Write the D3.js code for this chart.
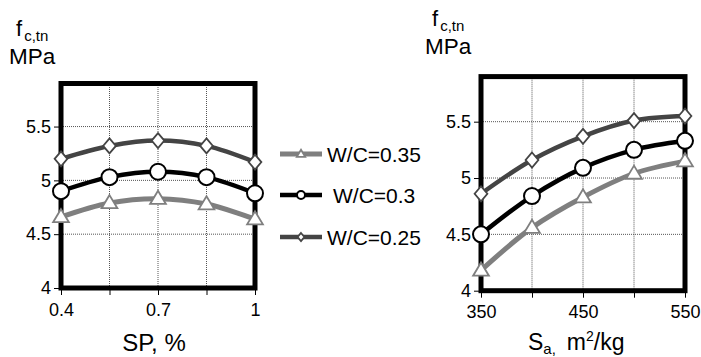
<!DOCTYPE html>
<html>
<head>
<meta charset="utf-8">
<script src="https://cdn.jsdelivr.net/npm/d3@7"></script>
<style>
  body { margin: 0; background: #fff; }
  svg { font-family: "Liberation Sans", Arial, sans-serif; }
</style>
</head>
<body>
<div id="chart"></div>
<script>
// series names
const seriesNames = ["W/C=0.35", "W/C=0.3", "W/C=0.25"]

// left panel: superplasticizer dosage
const spValues = [0.4, 0.55, 0.7, 0.85, 1]
const spWc035 = [4.66, 4.79, 4.83, 4.78, 4.64]
const spWc030 = [4.90, 5.03, 5.08, 5.03, 4.88]
const spWc025 = [5.20, 5.32, 5.37, 5.32, 5.17]

// right panel: specific surface
const saValues = [350, 400, 450, 500, 550]
const saWc035 = [4.18, 4.56, 4.83, 5.04, 5.15]
const saWc030 = [4.50, 4.84, 5.09, 5.25, 5.33]
const saWc025 = [4.86, 5.16, 5.37, 5.51, 5.55]

const yTicks = [4, 4.5, 5, 5.5]
const spLabels = [0.4, 0.7, 1]
const saLabels = [350, 450, 550]

const styles = [
  { color: "#7f7f7f", width: 5, marker: "triangle" },
  { color: "#000", width: 4.5, marker: "circle" },
  { color: "#444", width: 4.5, marker: "diamond" }
]

const W = 701, H = 357
const svg = d3.select("#chart").append("svg")
  .attr("width", W).attr("height", H)

function marker(g, type, color, s) {
  let path
  if (type === "circle") {
    return g.append("circle").attr("r", s).attr("fill", "#fff")
      .attr("stroke", color).attr("stroke-width", 2)
  }
  if (type === "triangle") {
    path = `M0,${-s * 1.05}L${s * 1.05},${s * 0.7}L${-s * 1.05},${s * 0.7}Z`
  } else {
    path = `M0,${-s}L${s * 0.85},0L0,${s}L${-s * 0.85},0Z`
  }
  return g.append("path").attr("d", path).attr("fill", "#fff")
    .attr("stroke", color).attr("stroke-width", 1.8)
}

function panel(xVals, series, xDomain, xRange, yRange, xLabels) {
  const x = d3.scaleLinear().domain(xDomain).range(xRange)
  const y = d3.scaleLinear().domain([4, 5.9]).range(yRange)
  const g = svg.append("g")

  // grid
  g.append("g").selectAll("line").data(yTicks.slice(1)).join("line")
    .attr("x1", xRange[0]).attr("x2", xRange[1])
    .attr("y1", d => y(d)).attr("y2", d => y(d))
    .attr("stroke", "#555").attr("stroke-width", 1).attr("stroke-dasharray", "1,1")
  g.append("g").selectAll("line").data(xVals.slice(1, -1)).join("line")
    .attr("x1", d => x(d)).attr("x2", d => x(d))
    .attr("y1", yRange[0]).attr("y2", yRange[1])
    .attr("stroke", "#555").attr("stroke-width", 1).attr("stroke-dasharray", "1,1")

  // axes
  const xAxis = g.append("g").attr("transform", `translate(0,${yRange[0]})`)
    .call(d3.axisBottom(x).tickValues(xVals).tickSize(7).tickPadding(8)
      .tickFormat(d => xLabels.includes(d) ? d3.format("~g")(d) : ""))
  const yAxis = g.append("g").attr("transform", `translate(${xRange[0]},0)`)
    .call(d3.axisLeft(y).tickValues(yTicks).tickSize(7).tickPadding(3)
      .tickFormat(d3.format("~g")))
  ;[xAxis, yAxis].forEach(a => {
    a.select(".domain").remove()
    a.selectAll("line").attr("stroke", "#000").attr("stroke-width", 1)
    a.selectAll("text").attr("font-size", 18).attr("fill", "#000")
      .attr("font-family", "\"Liberation Sans\", Arial, sans-serif")
  })

  // frame
  g.append("rect")
    .attr("x", xRange[0]).attr("y", yRange[1])
    .attr("width", xRange[1] - xRange[0]).attr("height", yRange[0] - yRange[1])
    .attr("fill", "none").attr("stroke", "#000").attr("stroke-width", 5)

  const line = d3.line().x(d => x(d[0])).y(d => y(d[1])).curve(d3.curveCatmullRom)
  series.forEach((vals, i) => {
    const st = styles[i]
    const pts = xVals.map((v, j) => [v, vals[j]])
    g.append("path").attr("d", line(pts)).attr("fill", "none")
      .attr("stroke", st.color).attr("stroke-width", st.width)
    pts.forEach(p => {
      const m = g.append("g").attr("transform", `translate(${x(p[0])},${y(p[1])})`)
      marker(m, st.marker, st.color, st.marker === "circle" ? 8 : 7.5)
    })
  })
}

panel(spValues, [spWc035, spWc030, spWc025], [0.4, 1], [61, 255], [288, 83.5], spLabels)
panel(saValues, [saWc035, saWc030, saWc025], [350, 550], [481, 685], [290.7, 76.6], saLabels)

// y titles
function yTitle(x0, base) {
  const t = svg.append("text").attr("x", x0).attr("y", base).attr("fill", "#000")
  t.append("tspan").attr("font-size", 22).text("f")
  t.append("tspan").attr("font-size", 15).attr("dy", 5).attr("dx", 2).text("c,tn")
  svg.append("text").attr("x", x0 - 7).attr("y", base + 28).attr("font-size", 22.5)
    .attr("fill", "#000").text("MPa")
}
yTitle(16, 36)
yTitle(432, 26)

// x titles
svg.append("text").attr("x", 154).attr("y", 351).attr("text-anchor", "middle")
  .attr("font-size", 24).text("SP, %")
const sa = svg.append("text").attr("x", 528).attr("y", 350).attr("font-size", 23)
sa.append("tspan").text("S")
sa.append("tspan").attr("font-size", 15).attr("dy", 4).text("a,")
sa.append("tspan").attr("dy", -4).attr("dx", 11).text("m")
sa.append("tspan").attr("font-size", 14).attr("dy", -9).text("2")
sa.append("tspan").attr("dy", 9).text("/kg")

// legend
const legendY = [154, 195, 237]
const legend = svg.append("g")
seriesNames.forEach((name, i) => {
  const st = styles[i]
  const g = legend.append("g").attr("transform", `translate(0,${legendY[i]})`)
  g.append("line").attr("x1", 280).attr("x2", 322).attr("y1", 0).attr("y2", 0)
    .attr("stroke", st.color).attr("stroke-width", st.width)
  const m = g.append("g").attr("transform", "translate(301,0)")
  marker(m, st.marker, st.color, 4)
  g.append("text").attr("x", i === 1 ? 333 : 327).attr("y", 7.5)
    .attr("font-size", 21).attr("fill", "#000").text(name)
})
</script>
</body>
</html>
